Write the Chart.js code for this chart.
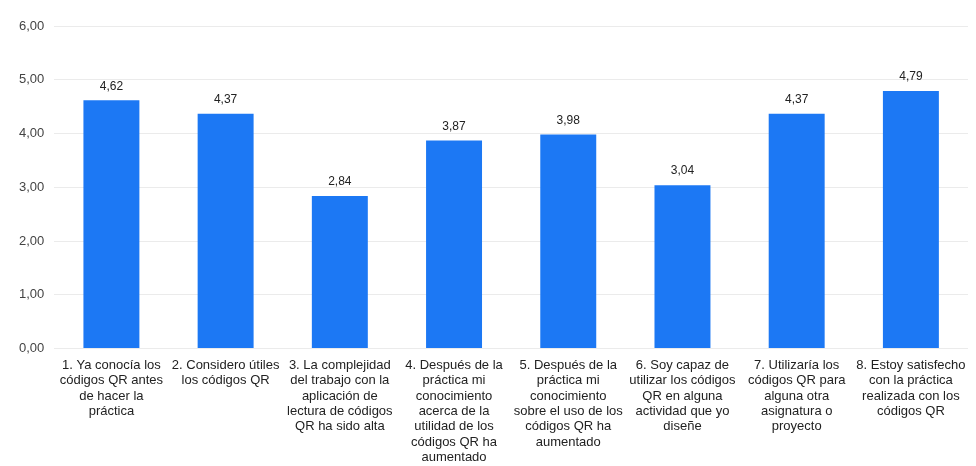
<!DOCTYPE html>
<html>
<head>
<meta charset="utf-8">
<script src="https://cdn.jsdelivr.net/npm/chart.js@4/dist/chart.umd.min.js"></script>
<style>
  html, body { margin: 0; padding: 0; background: #fff; }
  #wrap { width: 976px; height: 466px; }
</style>
</head>
<body>
<div id="wrap"><canvas id="chartQR"></canvas></div>
<script>
// survey items, one entry per line of the axis label
const categories = [
  ['1. Ya conocía los', 'códigos QR antes', 'de hacer la', 'práctica'],
  ['2. Considero útiles', 'los códigos QR'],
  ['3. La complejidad', 'del trabajo con la', 'aplicación de', 'lectura de códigos', 'QR ha sido alta'],
  ['4. Después de la', 'práctica mi', 'conocimiento', 'acerca de la', 'utilidad de los', 'códigos QR ha', 'aumentado'],
  ['5. Después de la', 'práctica mi', 'conocimiento', 'sobre el uso de los', 'códigos QR ha', 'aumentado'],
  ['6. Soy capaz de', 'utilizar los códigos', 'QR en alguna', 'actividad que yo', 'diseñe'],
  ['7. Utilizaría los', 'códigos QR para', 'alguna otra', 'asignatura o', 'proyecto'],
  ['8. Estoy satisfecho', 'con la práctica', 'realizada con los', 'códigos QR']
];
const meanScores = [4.62, 4.37, 2.84, 3.87, 3.98, 3.04, 4.37, 4.79];
const yTicks = [0, 1, 2, 3, 4, 5, 6];

const fmt = v => v.toFixed(2).replace('.', ',');
const FONT = '"Liberation Sans", Arial, sans-serif';

// writes the value above each bar
const valueLabels = {
  id: 'valueLabels',
  afterDatasetsDraw(chart) {
    const ctx = chart.ctx;
    const meta = chart.getDatasetMeta(0);
    ctx.save();
    ctx.font = '12px ' + FONT;
    ctx.fillStyle = '#222';
    ctx.textAlign = 'center';
    ctx.textBaseline = 'middle';
    meta.data.forEach((bar, i) => {
      ctx.fillText(fmt(meanScores[i]), bar.x, bar.y - 14);
    });
    ctx.restore();
  }
};

new Chart(document.getElementById('chartQR'), {
  type: 'bar',
  data: {
    labels: categories,
    datasets: [{
      data: meanScores,
      backgroundColor: '#1c78f4',
      borderWidth: 0,
      categoryPercentage: 1,
      barPercentage: 0.49
    }]
  },
  options: {
    responsive: true,
    maintainAspectRatio: false,
    animation: false,
    layout: { padding: { left: 9, right: 8, top: 26, bottom: 0 } },
    plugins: {
      legend: { display: false },
      tooltip: { enabled: false }
    },
    scales: {
      x: {
        grid: { display: false },
        border: { display: false },
        ticks: {
          autoSkip: false,
          maxRotation: 0,
          color: '#222',
          padding: 1,
          font: { family: FONT, size: 13, lineHeight: 1.18 }
        }
      },
      y: {
        min: 0,
        max: 6,
        afterBuildTicks: axis => { axis.ticks = yTicks.map(v => ({ value: v })); },
        grid: { color: '#ebebeb', drawTicks: false },
        border: { display: false },
        ticks: {
          color: '#444',
          padding: 10,
          callback: v => fmt(v),
          font: { family: FONT, size: 13 }
        }
      }
    }
  },
  plugins: [valueLabels]
});
</script>
</body>
</html>
